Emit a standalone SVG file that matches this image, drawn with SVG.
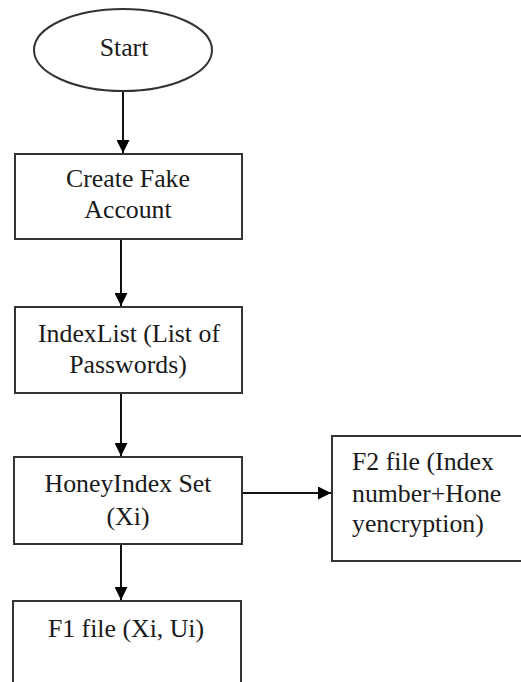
<svg xmlns="http://www.w3.org/2000/svg" width="521" height="682" viewBox="0 0 521 682">
<style>
.s{fill:#fff;stroke:#333;stroke-width:2}
.t{font-family:'Liberation Serif','DejaVu Serif','Times New Roman',serif;font-size:25.8px;fill:#1a1a1a}
.c{stroke:#111;stroke-width:2;fill:none}
</style>
<defs>
<marker id="ah" viewBox="0 0 10 10" refX="10" refY="5" markerWidth="6.5" markerHeight="6.5" markerUnits="strokeWidth" orient="auto">
<path d="M0,0 L10,5 L0,10 Z" fill="#000"/>
</marker>
</defs>
<rect width="521" height="682" fill="#fff"/>
<g id="connectors">
<line class="c" x1="123" y1="91" x2="123" y2="153" marker-end="url(#ah)"/>
<line class="c" x1="121" y1="239" x2="121" y2="306" marker-end="url(#ah)"/>
<line class="c" x1="121" y1="393" x2="121" y2="456" marker-end="url(#ah)"/>
<line class="c" x1="121" y1="544" x2="121" y2="600" marker-end="url(#ah)"/>
<line class="c" x1="242" y1="493" x2="331" y2="493" marker-end="url(#ah)"/>
</g>
<g id="start">
<ellipse class="s" cx="123" cy="50" rx="89" ry="41"/>
<text class="t" x="124" y="56" text-anchor="middle">Start</text>
</g>
<g id="create">
<rect class="s" x="15" y="154" width="227" height="85"/>
<text class="t" x="128" y="187" text-anchor="middle">Create Fake</text>
<text class="t" x="128" y="218" text-anchor="middle">Account</text>
</g>
<g id="indexlist">
<rect class="s" x="15" y="307" width="227" height="86"/>
<text class="t" x="129" y="342" text-anchor="middle">IndexList (List of</text>
<text class="t" x="128" y="373" text-anchor="middle">Passwords)</text>
</g>
<g id="honeyindex">
<rect class="s" x="14" y="457" width="228" height="87"/>
<text class="t" x="128" y="492" text-anchor="middle">HoneyIndex Set</text>
<text class="t" x="128" y="525" text-anchor="middle">(Xi)</text>
</g>
<g id="f1">
<rect class="s" x="13" y="601" width="228" height="90"/>
<text class="t" x="126" y="637" text-anchor="middle">F1 file (Xi, Ui)</text>
</g>
<g id="f2">
<rect class="s" x="332" y="436" width="200" height="125"/>
<text class="t" x="352" y="470">F2 file (Index</text>
<text class="t" x="352" y="502">number+Hone</text>
<text class="t" x="352" y="532">yencryption)</text>
</g>
</svg>
